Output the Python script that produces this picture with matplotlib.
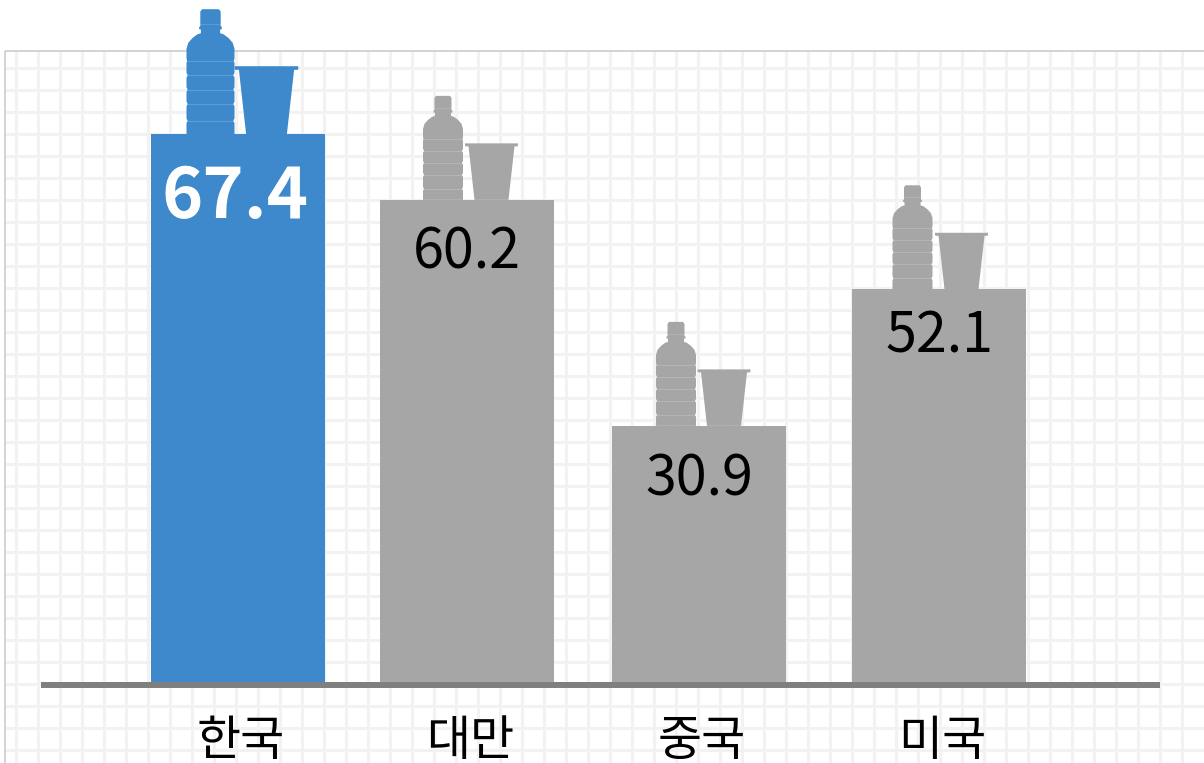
"""Bar chart with bottle and cup icons sitting on each bar."""
import numpy as np
import matplotlib
matplotlib.use('Agg')
import matplotlib.pyplot as plt
from matplotlib.patches import Polygon, Rectangle
from matplotlib.transforms import Affine2D

plt.rcParams['font.family'] = ['Noto Sans CJK KR', 'DejaVu Sans']

COUNTRIES = ['한국', '대만', '중국', '미국']
VALUE_LABELS = ['67.4', '60.2', '30.9', '52.1']
# bar heights as drawn, the picture is not to scale with its labels
BAR_HEIGHTS = [67.4, 59.3, 31.5, 48.3]

BAR_X = [238, 467, 699, 939]
BAR_W = 174
BAR_COLORS = ['#3d89cb', '#a6a6a6', '#a6a6a6', '#a6a6a6']
TEXT_COLORS = ['white', 'black', 'black', 'black']
TEXT_SIZES = [50.5, 40, 40, 40]
TEXT_WEIGHTS = ['bold', 'medium', 'medium', 'medium']
TEXT_DROP = [60, 49, 50, 43]
TEXT_DX = [-3, 0, 0, 0]
ICON_SCALE = [1.2, 1.0, 1.0, 1.0]
BOTTLE_DX = [-27.5, -24, -23, -26.5]
CUP_DX = [28.5, 24.5, 25, 22.5]

W, H = 1204, 763
BASE_Y = 682
PX_PER_UNIT = 548 / 67.4

# right half of the bottle outline, pixels above the bar top
BOTTLE_R = [(20, 0), (20, 9), (19, 11), (20, 13), (20, 23), (19, 25), (20, 27),
            (20, 35), (19, 37), (20, 39), (20, 47), (19, 49), (20, 51), (20, 59),
            (19.5, 61), (20, 63), (20, 71), (18.5, 76), (15, 80), (11, 83),
            (8, 84), (8, 87), (9.5, 87.5), (9.5, 89), (8.5, 90), (8.5, 102),
            (7, 104)]
BOTTLE_NOTCH = [11, 25, 37, 49, 61]
BOTTLE_CAP_LINE = 92
CUP_OUTLINE = [(-17, 0), (17, 0), (23, 53.5), (26, 53.5), (26.5, 54.5), (26.5, 56.5),
               (-26.5, 56.5), (-26.5, 54.5), (-26, 53.5), (-23, 53.5)]


def draw_icons(ax, x, top, scale, bottle_dx, cup_dx, color):
    fx, fy = ax.transData.transform((x, top))
    bottle_tr = Affine2D().scale(scale).translate(fx + bottle_dx, fy)
    cup_tr = Affine2D().scale(scale).translate(fx + cup_dx, fy)

    right = np.array(BOTTLE_R, dtype=float)
    left = right[::-1] * [-1, 1]
    ax.add_patch(Polygon(np.vstack([right, left]), closed=True, facecolor=color,
                         edgecolor='none', transform=bottle_tr, clip_on=False, zorder=5))
    for ny in BOTTLE_NOTCH:
        ax.plot([-19, 19], [ny, ny], color='white', alpha=0.18, lw=0.7,
                transform=bottle_tr, clip_on=False, zorder=6)
    ax.plot([-8.5, 8.5], [BOTTLE_CAP_LINE] * 2, color='white', alpha=0.15, lw=0.7,
            transform=bottle_tr, clip_on=False, zorder=6)

    ax.add_patch(Polygon(CUP_OUTLINE, closed=True, facecolor=color, edgecolor='none',
                         transform=cup_tr, clip_on=False, zorder=5))


fig = plt.figure(figsize=(W / 100, H / 100), dpi=100)

# paper background: frame and grid, in pixel coordinates
bg = fig.add_axes([0, 0, 1, 1])
bg.set_xlim(0, W)
bg.set_ylim(H, 0)
bg.axis('off')
bg.vlines(np.arange(16, W, 22), 51, H, color='#f2f2f2', lw=2.2, zorder=1)
bg.hlines(np.arange(68, H, 22), 5, W, color='#f2f2f2', lw=2.2, zorder=1)
bg.add_patch(Rectangle((5, 51), W, H, fill=False, edgecolor='#c8c8c8', lw=1.1, zorder=2))

ax = fig.add_axes([0, (H - BASE_Y) / H, 1, BASE_Y / H])
ax.patch.set_alpha(0)
ax.set_xlim(0, W)
ax.set_ylim(0, BASE_Y / PX_PER_UNIT)
ax.bar(BAR_X, BAR_HEIGHTS, width=BAR_W, color=BAR_COLORS, zorder=3)

for s in ['top', 'left', 'right']:
    ax.spines[s].set_visible(False)
ax.spines['bottom'].set_position(('outward', 2.1))
ax.spines['bottom'].set_bounds(41, 1160)
ax.spines['bottom'].set_linewidth(4.3)
ax.spines['bottom'].set_color('#7f7f7f')
ax.spines['bottom'].set_capstyle('butt')
ax.set_yticks([])
ax.set_xticks(BAR_X)
ax.set_xticklabels(COUNTRIES, fontsize=34.5, fontweight='medium')
ax.tick_params(axis='x', length=0, pad=23, colors='black')
for label in ax.get_xticklabels():
    label.set_transform(label.get_transform() + Affine2D().translate(3, 0))

for i, x in enumerate(BAR_X):
    ax.annotate(VALUE_LABELS[i], (x, BAR_HEIGHTS[i]),
                xytext=(TEXT_DX[i] * 0.72, -TEXT_DROP[i] * 0.72 - 3),
                textcoords='offset points', ha='center', va='center',
                fontsize=TEXT_SIZES[i], color=TEXT_COLORS[i],
                fontweight=TEXT_WEIGHTS[i], zorder=6)
    draw_icons(ax, x, BAR_HEIGHTS[i], ICON_SCALE[i], BOTTLE_DX[i], CUP_DX[i], BAR_COLORS[i])

fig.savefig('out.png', dpi=100)
